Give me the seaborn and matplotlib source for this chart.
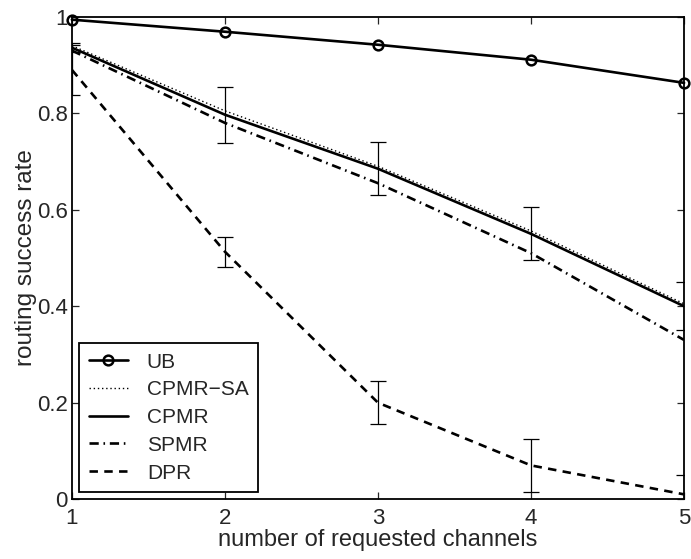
import matplotlib
matplotlib.use('Agg')
import matplotlib.pyplot as plt
import seaborn as sns
import pandas as pd
from matplotlib.ticker import FuncFormatter

# values
channels = [1, 2, 3, 4, 5]
ub = [0.994, 0.969, 0.942, 0.911, 0.863]
cpmr_sa = [0.940, 0.805, 0.690, 0.556, 0.405]
cpmr = [0.936, 0.797, 0.685, 0.550, 0.400]
spmr = [0.930, 0.780, 0.655, 0.510, 0.330]
dpr = [0.890, 0.513, 0.200, 0.070, 0.010]
cpmr_err = [0.010, 0.058, 0.055, 0.055, 0.050]
dpr_err = [0.052, 0.031, 0.045, 0.055, 0.040]

series = {"UB": ub, "CPMR\u2212SA": cpmr_sa, "CPMR": cpmr, "SPMR": spmr, "DPR": dpr}

sns.set_style("ticks")
plt.rcParams['font.family'] = ['Liberation Sans', 'DejaVu Sans']

fig = plt.figure(figsize=(6.91, 5.59), dpi=100)
ax = fig.add_axes([0.104, 0.107, 0.886, 0.863])

styles = {
    "UB": dict(linestyle='-', lw=1.9, marker='o', markersize=7, markerfacecolor='none',
               markeredgecolor='black', markeredgewidth=1.8, clip_on=False),
    "CPMR\u2212SA": dict(linestyle=(0, (1, 2)), lw=1.0),
    "CPMR": dict(linestyle='-', lw=1.9),
    "SPMR": dict(linestyle=(0, (3.5, 1.8, 0.6, 1.8)), lw=1.9),
    "DPR": dict(linestyle=(0, (3.2, 2.4)), lw=1.9),
}

for name, vals in series.items():
    df = pd.DataFrame({"x": channels, "y": vals})
    sns.lineplot(data=df, x="x", y="y", ax=ax, color='black', label=name,
                 errorbar=None, **styles[name])

# error bars on CPMR and DPR
for vals, err in [(cpmr, cpmr_err), (dpr, dpr_err)]:
    ax.errorbar(channels, vals, yerr=err, fmt='none', ecolor='black',
                elinewidth=0.9, capsize=5.5, capthick=0.9)

ax.set_xlim(1, 5)
ax.set_ylim(0, 1)
ax.set_xticks(channels)
ax.set_yticks([0, 0.2, 0.4, 0.6, 0.8, 1.0])
ax.yaxis.set_major_formatter(FuncFormatter(lambda v, p: f"{v:g}"))
ax.tick_params(direction='in', length=5, width=0.9, top=True, right=True,
               labelsize=16)
ax.tick_params(axis='x', pad=6)
ax.tick_params(axis='y', pad=3)
for s in ax.spines.values():
    s.set_linewidth(1.3)
    s.set_color('black')

ax.set_xlabel("number of requested channels", fontsize=17, labelpad=0)
ax.set_ylabel("routing success rate", fontsize=17.5, labelpad=0)

leg = ax.legend(loc='lower left', bbox_to_anchor=(0.0, 0.0), fontsize=15,
                handlelength=1.9, handletextpad=0.9, labelspacing=0.42,
                borderpad=0.45, borderaxespad=0.35, fancybox=False, framealpha=1)
leg.get_frame().set_edgecolor('black')
leg.get_frame().set_linewidth(1.3)

plt.savefig("out.png", dpi=100)
plt.close()
